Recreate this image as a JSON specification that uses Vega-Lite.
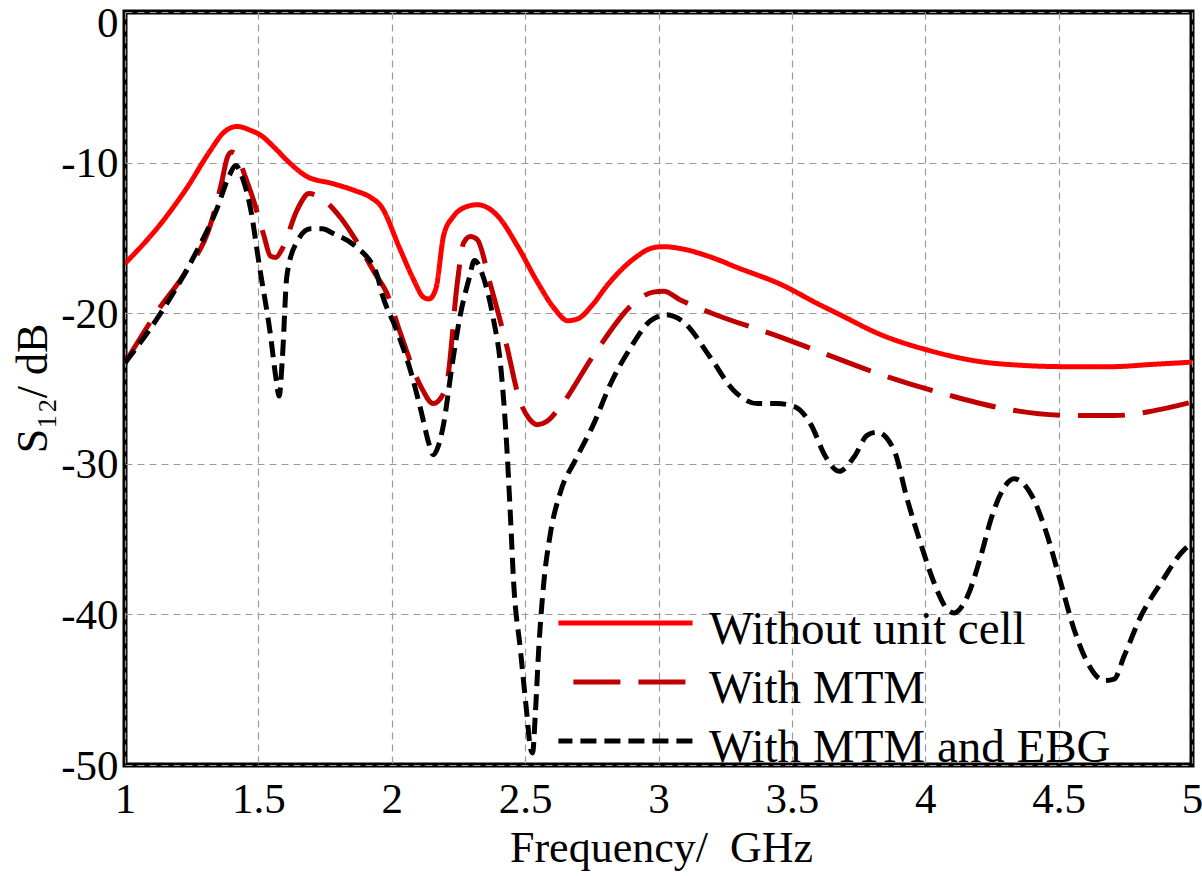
{
  "$schema": "https://vega.github.io/schema/vega-lite/v6.json",
  "width": 1067,
  "height": 753,
  "autosize": {"type": "none"},
  "padding": {"left": 125, "top": 12, "right": 10, "bottom": 111},
  "background": "white",
  "config": {
    "font": "Liberation Serif",
    "view": {"stroke": "black", "strokeWidth": 5}
  },
  "datasets": {
    "curves": [
      {"f": 1.0, "s": -16.7, "series": "Without unit cell"},
      {"f": 1.13, "s": -14.15, "series": "Without unit cell"},
      {"f": 1.23, "s": -11.73, "series": "Without unit cell"},
      {"f": 1.32, "s": -9.2, "series": "Without unit cell"},
      {"f": 1.37, "s": -8.0, "series": "Without unit cell"},
      {"f": 1.42, "s": -7.6, "series": "Without unit cell"},
      {"f": 1.47, "s": -7.85, "series": "Without unit cell"},
      {"f": 1.51, "s": -8.2, "series": "Without unit cell"},
      {"f": 1.56, "s": -9.0, "series": "Without unit cell"},
      {"f": 1.61, "s": -9.9, "series": "Without unit cell"},
      {"f": 1.68, "s": -10.9, "series": "Without unit cell"},
      {"f": 1.78, "s": -11.4, "series": "Without unit cell"},
      {"f": 1.86, "s": -11.85, "series": "Without unit cell"},
      {"f": 1.92, "s": -12.3, "series": "Without unit cell"},
      {"f": 1.96, "s": -12.9, "series": "Without unit cell"},
      {"f": 2.03, "s": -15.7, "series": "Without unit cell"},
      {"f": 2.08, "s": -17.7, "series": "Without unit cell"},
      {"f": 2.12, "s": -18.95, "series": "Without unit cell"},
      {"f": 2.14, "s": -19.05, "series": "Without unit cell"},
      {"f": 2.165, "s": -18.4, "series": "Without unit cell"},
      {"f": 2.195, "s": -14.8, "series": "Without unit cell"},
      {"f": 2.23, "s": -13.6, "series": "Without unit cell"},
      {"f": 2.27, "s": -13.0, "series": "Without unit cell"},
      {"f": 2.32, "s": -12.8, "series": "Without unit cell"},
      {"f": 2.36, "s": -13.0, "series": "Without unit cell"},
      {"f": 2.4, "s": -13.6, "series": "Without unit cell"},
      {"f": 2.47, "s": -15.5, "series": "Without unit cell"},
      {"f": 2.545, "s": -17.9, "series": "Without unit cell"},
      {"f": 2.61, "s": -19.7, "series": "Without unit cell"},
      {"f": 2.66, "s": -20.5, "series": "Without unit cell"},
      {"f": 2.7, "s": -20.35, "series": "Without unit cell"},
      {"f": 2.75, "s": -19.5, "series": "Without unit cell"},
      {"f": 2.81, "s": -18.1, "series": "Without unit cell"},
      {"f": 2.91, "s": -16.35, "series": "Without unit cell"},
      {"f": 2.98, "s": -15.65, "series": "Without unit cell"},
      {"f": 3.02, "s": -15.58, "series": "Without unit cell"},
      {"f": 3.08, "s": -15.7, "series": "Without unit cell"},
      {"f": 3.2, "s": -16.3, "series": "Without unit cell"},
      {"f": 3.3, "s": -17.0, "series": "Without unit cell"},
      {"f": 3.46, "s": -18.1, "series": "Without unit cell"},
      {"f": 3.6, "s": -19.4, "series": "Without unit cell"},
      {"f": 3.68, "s": -20.1, "series": "Without unit cell"},
      {"f": 3.83, "s": -21.4, "series": "Without unit cell"},
      {"f": 4.02, "s": -22.5, "series": "Without unit cell"},
      {"f": 4.2, "s": -23.2, "series": "Without unit cell"},
      {"f": 4.35, "s": -23.45, "series": "Without unit cell"},
      {"f": 4.53, "s": -23.55, "series": "Without unit cell"},
      {"f": 4.7, "s": -23.55, "series": "Without unit cell"},
      {"f": 4.85, "s": -23.4, "series": "Without unit cell"},
      {"f": 5.0, "s": -23.25, "series": "Without unit cell"},

      {"f": 1.0, "s": -23.3, "series": "With MTM"},
      {"f": 1.13, "s": -19.65, "series": "With MTM"},
      {"f": 1.23, "s": -17.2, "series": "With MTM"},
      {"f": 1.32, "s": -14.15, "series": "With MTM"},
      {"f": 1.36, "s": -11.5, "series": "With MTM"},
      {"f": 1.385, "s": -9.6, "series": "With MTM"},
      {"f": 1.4, "s": -9.3, "series": "With MTM"},
      {"f": 1.42, "s": -9.5, "series": "With MTM"},
      {"f": 1.45, "s": -10.9, "series": "With MTM"},
      {"f": 1.48, "s": -12.4, "series": "With MTM"},
      {"f": 1.52, "s": -14.8, "series": "With MTM"},
      {"f": 1.545, "s": -16.2, "series": "With MTM"},
      {"f": 1.565, "s": -16.3, "series": "With MTM"},
      {"f": 1.59, "s": -15.7, "series": "With MTM"},
      {"f": 1.645, "s": -13.15, "series": "With MTM"},
      {"f": 1.69, "s": -12.05, "series": "With MTM"},
      {"f": 1.73, "s": -12.3, "series": "With MTM"},
      {"f": 1.81, "s": -13.7, "series": "With MTM"},
      {"f": 1.86, "s": -15.0, "series": "With MTM"},
      {"f": 1.94, "s": -17.45, "series": "With MTM"},
      {"f": 1.98, "s": -18.6, "series": "With MTM"},
      {"f": 2.03, "s": -21.2, "series": "With MTM"},
      {"f": 2.11, "s": -24.9, "series": "With MTM"},
      {"f": 2.155, "s": -26.0, "series": "With MTM"},
      {"f": 2.185, "s": -25.6, "series": "With MTM"},
      {"f": 2.21, "s": -24.3, "series": "With MTM"},
      {"f": 2.245, "s": -18.1, "series": "With MTM"},
      {"f": 2.27, "s": -15.3, "series": "With MTM"},
      {"f": 2.295, "s": -14.9, "series": "With MTM"},
      {"f": 2.32, "s": -15.1, "series": "With MTM"},
      {"f": 2.37, "s": -18.1, "series": "With MTM"},
      {"f": 2.43, "s": -22.1, "series": "With MTM"},
      {"f": 2.48, "s": -25.8, "series": "With MTM"},
      {"f": 2.515, "s": -27.0, "series": "With MTM"},
      {"f": 2.545, "s": -27.4, "series": "With MTM"},
      {"f": 2.58, "s": -27.2, "series": "With MTM"},
      {"f": 2.63, "s": -26.25, "series": "With MTM"},
      {"f": 2.76, "s": -22.7, "series": "With MTM"},
      {"f": 2.91, "s": -19.3, "series": "With MTM"},
      {"f": 2.98, "s": -18.6, "series": "With MTM"},
      {"f": 3.02, "s": -18.55, "series": "With MTM"},
      {"f": 3.08, "s": -19.1, "series": "With MTM"},
      {"f": 3.2, "s": -20.0, "series": "With MTM"},
      {"f": 3.46, "s": -21.6, "series": "With MTM"},
      {"f": 3.61, "s": -22.6, "series": "With MTM"},
      {"f": 3.83, "s": -24.05, "series": "With MTM"},
      {"f": 4.08, "s": -25.4, "series": "With MTM"},
      {"f": 4.33, "s": -26.45, "series": "With MTM"},
      {"f": 4.56, "s": -26.8, "series": "With MTM"},
      {"f": 4.71, "s": -26.8, "series": "With MTM"},
      {"f": 4.85, "s": -26.5, "series": "With MTM"},
      {"f": 5.0, "s": -25.9, "series": "With MTM"},

      {"f": 1.0, "s": -23.3, "series": "With MTM and EBG"},
      {"f": 1.13, "s": -20.1, "series": "With MTM and EBG"},
      {"f": 1.255, "s": -16.35, "series": "With MTM and EBG"},
      {"f": 1.345, "s": -13.05, "series": "With MTM and EBG"},
      {"f": 1.39, "s": -10.9, "series": "With MTM and EBG"},
      {"f": 1.415, "s": -10.2, "series": "With MTM and EBG"},
      {"f": 1.44, "s": -11.0, "series": "With MTM and EBG"},
      {"f": 1.47, "s": -13.0, "series": "With MTM and EBG"},
      {"f": 1.505, "s": -17.0, "series": "With MTM and EBG"},
      {"f": 1.545, "s": -21.4, "series": "With MTM and EBG"},
      {"f": 1.565, "s": -24.2, "series": "With MTM and EBG"},
      {"f": 1.578, "s": -25.5, "series": "With MTM and EBG"},
      {"f": 1.59, "s": -23.0, "series": "With MTM and EBG"},
      {"f": 1.607, "s": -17.5, "series": "With MTM and EBG"},
      {"f": 1.645, "s": -15.25, "series": "With MTM and EBG"},
      {"f": 1.695, "s": -14.4, "series": "With MTM and EBG"},
      {"f": 1.74, "s": -14.4, "series": "With MTM and EBG"},
      {"f": 1.78, "s": -14.7, "series": "With MTM and EBG"},
      {"f": 1.86, "s": -15.5, "series": "With MTM and EBG"},
      {"f": 1.945, "s": -17.45, "series": "With MTM and EBG"},
      {"f": 1.96, "s": -18.5, "series": "With MTM and EBG"},
      {"f": 2.02, "s": -21.2, "series": "With MTM and EBG"},
      {"f": 2.07, "s": -23.8, "series": "With MTM and EBG"},
      {"f": 2.11, "s": -26.5, "series": "With MTM and EBG"},
      {"f": 2.14, "s": -28.7, "series": "With MTM and EBG"},
      {"f": 2.155, "s": -29.4, "series": "With MTM and EBG"},
      {"f": 2.175, "s": -28.8, "series": "With MTM and EBG"},
      {"f": 2.195, "s": -27.3, "series": "With MTM and EBG"},
      {"f": 2.225, "s": -23.6, "series": "With MTM and EBG"},
      {"f": 2.255, "s": -20.3, "series": "With MTM and EBG"},
      {"f": 2.29, "s": -17.7, "series": "With MTM and EBG"},
      {"f": 2.31, "s": -16.5, "series": "With MTM and EBG"},
      {"f": 2.345, "s": -17.7, "series": "With MTM and EBG"},
      {"f": 2.38, "s": -20.3, "series": "With MTM and EBG"},
      {"f": 2.41, "s": -23.8, "series": "With MTM and EBG"},
      {"f": 2.43, "s": -28.5, "series": "With MTM and EBG"},
      {"f": 2.445, "s": -33.5, "series": "With MTM and EBG"},
      {"f": 2.457, "s": -37.9, "series": "With MTM and EBG"},
      {"f": 2.482, "s": -42.3, "series": "With MTM and EBG"},
      {"f": 2.507, "s": -46.7, "series": "With MTM and EBG"},
      {"f": 2.52, "s": -48.9, "series": "With MTM and EBG"},
      {"f": 2.528, "s": -49.2, "series": "With MTM and EBG"},
      {"f": 2.538, "s": -46.7, "series": "With MTM and EBG"},
      {"f": 2.551, "s": -42.3, "series": "With MTM and EBG"},
      {"f": 2.57, "s": -37.9, "series": "With MTM and EBG"},
      {"f": 2.595, "s": -34.6, "series": "With MTM and EBG"},
      {"f": 2.632, "s": -31.9, "series": "With MTM and EBG"},
      {"f": 2.69, "s": -29.7, "series": "With MTM and EBG"},
      {"f": 2.757, "s": -27.35, "series": "With MTM and EBG"},
      {"f": 2.82, "s": -24.7, "series": "With MTM and EBG"},
      {"f": 2.895, "s": -22.3, "series": "With MTM and EBG"},
      {"f": 2.97, "s": -20.5, "series": "With MTM and EBG"},
      {"f": 3.03, "s": -20.1, "series": "With MTM and EBG"},
      {"f": 3.095, "s": -20.6, "series": "With MTM and EBG"},
      {"f": 3.195, "s": -22.95, "series": "With MTM and EBG"},
      {"f": 3.283, "s": -25.15, "series": "With MTM and EBG"},
      {"f": 3.37, "s": -26.0, "series": "With MTM and EBG"},
      {"f": 3.445, "s": -26.0, "series": "With MTM and EBG"},
      {"f": 3.51, "s": -26.2, "series": "With MTM and EBG"},
      {"f": 3.57, "s": -27.35, "series": "With MTM and EBG"},
      {"f": 3.627, "s": -29.55, "series": "With MTM and EBG"},
      {"f": 3.677, "s": -30.5, "series": "With MTM and EBG"},
      {"f": 3.733, "s": -29.55, "series": "With MTM and EBG"},
      {"f": 3.783, "s": -28.1, "series": "With MTM and EBG"},
      {"f": 3.82, "s": -27.9, "series": "With MTM and EBG"},
      {"f": 3.883, "s": -29.1, "series": "With MTM and EBG"},
      {"f": 3.933, "s": -32.4, "series": "With MTM and EBG"},
      {"f": 3.983, "s": -35.3, "series": "With MTM and EBG"},
      {"f": 4.033, "s": -37.9, "series": "With MTM and EBG"},
      {"f": 4.083, "s": -39.67, "series": "With MTM and EBG"},
      {"f": 4.108, "s": -39.9, "series": "With MTM and EBG"},
      {"f": 4.158, "s": -38.8, "series": "With MTM and EBG"},
      {"f": 4.208, "s": -36.15, "series": "With MTM and EBG"},
      {"f": 4.246, "s": -33.7, "series": "With MTM and EBG"},
      {"f": 4.29, "s": -31.75, "series": "With MTM and EBG"},
      {"f": 4.333, "s": -31.0, "series": "With MTM and EBG"},
      {"f": 4.396, "s": -32.0, "series": "With MTM and EBG"},
      {"f": 4.458, "s": -34.8, "series": "With MTM and EBG"},
      {"f": 4.508, "s": -37.9, "series": "With MTM and EBG"},
      {"f": 4.558, "s": -41.0, "series": "With MTM and EBG"},
      {"f": 4.608, "s": -43.2, "series": "With MTM and EBG"},
      {"f": 4.671, "s": -44.4, "series": "With MTM and EBG"},
      {"f": 4.708, "s": -44.3, "series": "With MTM and EBG"},
      {"f": 4.746, "s": -42.75, "series": "With MTM and EBG"},
      {"f": 4.809, "s": -40.1, "series": "With MTM and EBG"},
      {"f": 4.884, "s": -37.9, "series": "With MTM and EBG"},
      {"f": 4.971, "s": -35.7, "series": "With MTM and EBG"},
      {"f": 5.0, "s": -35.3, "series": "With MTM and EBG"}
    ]
  },
  "data": {"name": "curves"},
  "mark": {"type": "line", "strokeWidth": 5, "interpolate": "monotone", "clip": true},
  "encoding": {
    "x": {
      "field": "f",
      "type": "quantitative",
      "scale": {"domain": [1, 5], "nice": false, "zero": false},
      "axis": {
        "values": [1, 1.5, 2, 2.5, 3, 3.5, 4, 4.5, 5],
        "format": "~g",
        "domain": false,
        "ticks": false,
        "grid": true,
        "gridColor": "#9a9a9a",
        "gridDash": [7, 5],
        "gridWidth": 1.2,
        "labelFont": "Liberation Serif",
        "labelFontSize": 43,
        "labelColor": "black",
        "labelPadding": 13,
        "labelFlush": false,
        "labelOverlap": false,
        "title": "Frequency/\u00a0 GHz",
        "titleFont": "Liberation Serif",
        "titleFontSize": 44,
        "titleFontWeight": "normal",
        "titleColor": "black",
        "titleX": 536,
        "titleY": 96,
        "titleAlign": "center",
        "titleBaseline": "alphabetic"
      }
    },
    "y": {
      "field": "s",
      "type": "quantitative",
      "scale": {"domain": [-50, 0], "nice": false, "zero": false},
      "axis": {
        "values": [-50, -40, -30, -20, -10, 0],
        "labelExpr": "datum.value == 0 ? '0' : '-' + abs(datum.value)",
        "domain": false,
        "ticks": false,
        "grid": true,
        "gridColor": "#9a9a9a",
        "gridDash": [7, 5],
        "gridWidth": 1.2,
        "labelFont": "Liberation Serif",
        "labelFontSize": 43,
        "labelColor": "black",
        "labelPadding": 7,
        "labelFlush": false,
        "labelOverlap": false,
        "labelBaseline": "middle",
        "labelOffset": {"condition": {"test": "datum.value == 0", "value": 11}, "value": 1},
        "title": "S₁₂/ dB",
        "titleFont": "Liberation Serif",
        "titleFontSize": 44,
        "titleFontWeight": "normal",
        "titleColor": "black",
        "titleX": -92,
        "titleY": 376,
        "titleAngle": -90,
        "titleAlign": "center",
        "titleBaseline": "middle"
      }
    },
    "color": {
      "field": "series",
      "type": "nominal",
      "scale": {
        "domain": ["Without unit cell", "With MTM", "With MTM and EBG"],
        "range": ["#ff0000", "#c00000", "#000000"]
      },
      "legend": {
        "title": null,
        "orient": "none",
        "legendX": 472,
        "legendY": 589,
        "padding": 0,
        "rowPadding": 7,
        "symbolType": "M-2.58,-0.25H2.58",
        "symbolSize": 2704,
        "symbolStrokeWidth": 5,
        "symbolDashOffset": 50,
        "labelFont": "Liberation Serif",
        "labelFontSize": 47,
        "labelColor": "black",
        "labelOffset": 55,
        "labelLimit": 700
      }
    },
    "strokeDash": {
      "field": "series",
      "type": "nominal",
      "scale": {
        "domain": ["Without unit cell", "With MTM", "With MTM and EBG"],
        "range": [[1, 0], [47, 18], [16, 8]]
      },
      "legend": {
        "title": null,
        "orient": "none",
        "legendX": 472,
        "legendY": 589,
        "padding": 0,
        "rowPadding": 7,
        "symbolType": "M-2.58,-0.25H2.58",
        "symbolSize": 2704,
        "symbolStrokeWidth": 5,
        "symbolDashOffset": 50,
        "labelFont": "Liberation Serif",
        "labelFontSize": 47,
        "labelColor": "black",
        "labelOffset": 55,
        "labelLimit": 700
      }
    }
  }
}
